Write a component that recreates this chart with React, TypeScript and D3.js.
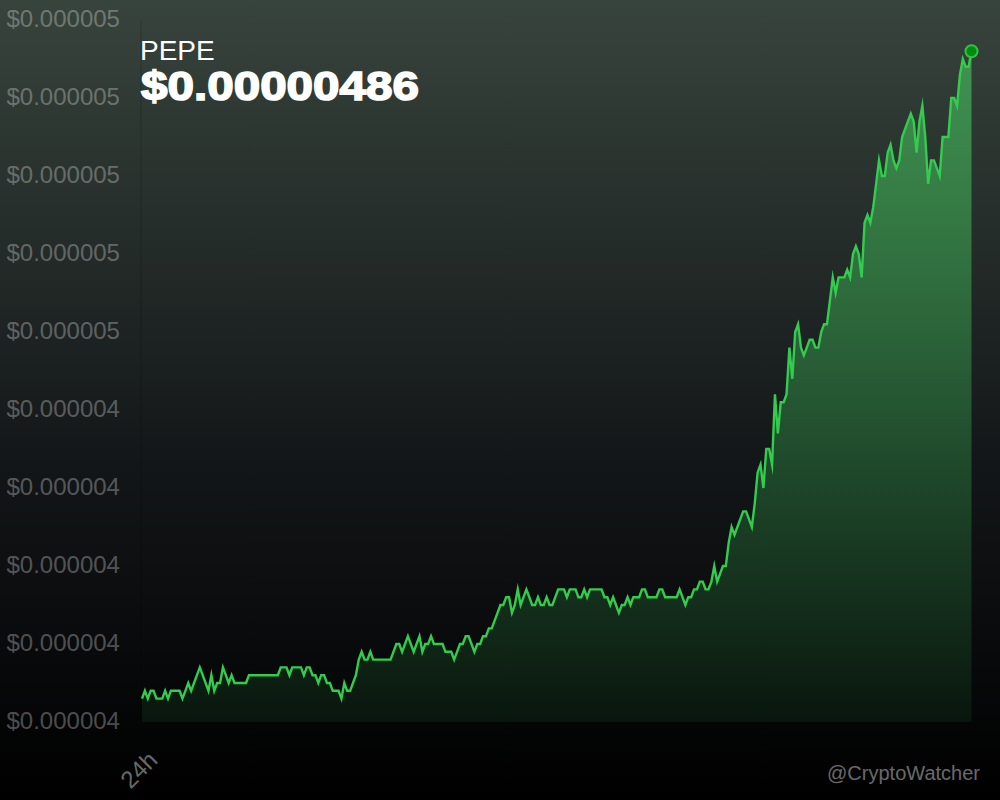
import React from "react";
import * as d3 from "d3";

// Prices in units of 1e-8 USD, one reading every 5 minutes over 24h
const pricesA = [
  403,404,403,404,404,403,403,403,404,403,404,404,404,404,403,404,405,404,405,406,
  407,406,405,404,406,404,405,405,407,406,405,406,405,405,405,405,405,406,406,406,
  406,406,406,406,406,406,406,406,407,407,407,406,407,407,407,407,406,407,407,406,
  406,405,406,406,405,405,404,404,404,403,405,404,404,405,406,408,409,408,408,409,
  408,408,408,408,408,408,408,409,410,410,409,410,411,410,409,410,411,409,410,410,
];
const pricesB = [
  411,410,410,410,410,409,409,409,408,409,410,410,411,411,410,409,410,410,411,411,
  412,412,413,414,415,415,416,416,414,415,417,415,416,417,416,415,415,416,415,415,
  416,415,415,416,417,417,417,416,417,417,417,416,416,417,416,417,417,417,417,417,
  416,416,415,416,415,414,415,415,416,415,416,416,416,417,417,416,416,416,416,417,
  417,416,416,416,416,416,417,416,415,416,416,417,417,418,418,417,417,418,420,418,
];
const pricesC = [
  419,420,420,423,425,424,425,426,427,427,426,425,428,432,433,430,435,435,433,442,
  437,441,441,442,448,444,450,451,448,447,448,449,449,448,448,450,451,451,454,457,
  455,457,457,457,458,457,460,461,460,457,464,465,464,466,469,472,470,470,473,474,
  472,471,472,475,476,477,478,477,473,477,479,475,469,472,472,471,470,475,475,475,
  480,480,479,483,485,484,484,486,
];
const prices = [...pricesA, ...pricesB, ...pricesC];
const axisTicks = [400,410,420,430,440,450,460,470,480,490];
const coinName = "PEPE";
const priceLabel = "$0.00000486";
const timeLabel = "24h";
const watermark = "@CryptoWatcher";

const M = { left: 142, right: 971.5, top: 20, bottom: 722 };

export default function App() {
  const x = d3.scaleLinear().domain([0, prices.length - 1]).range([M.left, M.right]);
  const y = d3.scaleLinear().domain([400, 490]).range([M.bottom, M.top]);
  const line = d3.line<number>().x((_, i) => x(i)).y((d) => y(d));
  const area = d3.area<number>().x((_, i) => x(i)).y0(M.bottom).y1((d) => y(d));
  const last = prices[prices.length - 1];
  const sans = "'Liberation Sans', Arial, sans-serif";
  return (
    <svg width={1000} height={800} viewBox="0 0 1000 800"
      style={{ position: "absolute", left: 0, top: 0, display: "block" }}>
      <defs>
        <linearGradient id="bg" x1="0" y1="0" x2="0" y2="1">
          <stop offset="0" stopColor="#37443c" />
          <stop offset="0.58" stopColor="#131618" />
          <stop offset="1" stopColor="#000000" />
        </linearGradient>
        <linearGradient id="fillG" gradientUnits="userSpaceOnUse" x1="0" y1={y(last)} x2="0" y2={M.bottom}>
          <stop offset="0" stopColor="#44b45a" stopOpacity={0.72} />
          <stop offset="1" stopColor="#2fa84a" stopOpacity={0.1} />
        </linearGradient>
      </defs>
      <rect width={1000} height={800} fill="url(#bg)" />
      <line x1={141} x2={141} y1={M.top} y2={M.bottom} stroke="rgba(0,0,0,0.18)" strokeWidth={1} />
      {axisTicks.map((t) => (
        <text key={t} x={6.5} y={y(t) - 1} dy="0.35em" fontFamily={sans} fontSize={24}
          fill="rgba(255,255,255,0.3)">
          {"$" + (t * 1e-8).toFixed(6)}
        </text>
      ))}
      <path d={area(prices) ?? ""} fill="url(#fillG)" />
      <path d={line(prices) ?? ""} fill="none" stroke="#33cc4f" strokeWidth={2.4} strokeLinejoin="miter" strokeMiterlimit={10} />
      <circle cx={x(prices.length - 1)} cy={y(last)} r={6} fill="#008a10" stroke="#2fc53f" strokeWidth={2} />
      <text x={140} y={59.5} fontFamily={sans} fontSize={28} fill="#ffffff">{coinName}</text>
      <text x={141} y={100} fontFamily={sans} fontWeight="bold" fontSize={41} fill="#ffffff"
        stroke="#ffffff" strokeWidth={1.6} textLength={278} lengthAdjust="spacingAndGlyphs">
        {priceLabel}
      </text>
      <text transform="translate(139,770) rotate(-45)" textAnchor="middle" dy={8} fontFamily={sans} fontSize={24}
        fill="rgba(255,255,255,0.42)">
        {timeLabel}
      </text>
      <text x={980} y={780} textAnchor="end" fontFamily={sans} fontSize={20} fill="rgba(255,255,255,0.42)">
        {watermark}
      </text>
    </svg>
  );
}
